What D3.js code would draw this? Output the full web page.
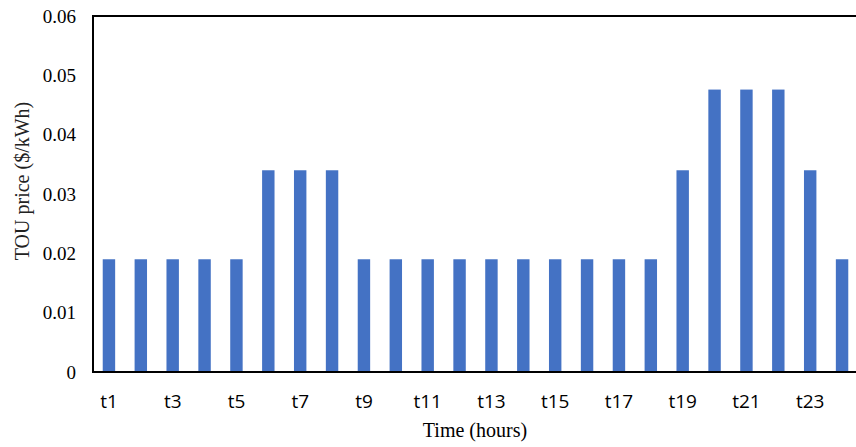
<!DOCTYPE html>
<html>
<head>
<meta charset="utf-8">
<script src="https://cdn.jsdelivr.net/npm/d3@7/dist/d3.min.js"></script>
<style>
  html, body { margin: 0; padding: 0; background: #fff; }
  svg { display: block; }
</style>
</head>
<body>
<svg id="chart" width="856" height="447"></svg>
<script>
// Hourly time-of-use tariff
const hours = ["t1","t2","t3","t4","t5","t6","t7","t8","t9","t10","t11","t12",
               "t13","t14","t15","t16","t17","t18","t19","t20","t21","t22","t23","t24"];
const prices = [0.019, 0.019, 0.019, 0.019, 0.019, 0.034, 0.034, 0.034,
                0.019, 0.019, 0.019, 0.019, 0.019, 0.019, 0.019, 0.019,
                0.019, 0.019, 0.034, 0.0476, 0.0476, 0.0476, 0.034, 0.019];
const yTicks = [0, 0.01, 0.02, 0.03, 0.04, 0.05, 0.06];
const xTickLabels = ["t1","t3","t5","t7","t9","t11","t13","t15","t17","t19","t21","t23"];

const svg = d3.select("#chart");
const plotLeft = 93, plotRight = 858, plotTop = 16, plotBottom = 372;

const x = d3.scaleBand().domain(hours).range([plotLeft, plotRight]).paddingInner(0.61).paddingOuter(0.305);
const y = d3.scaleLinear().domain([0, 0.06]).range([plotBottom, plotTop]);

// bars
svg.append("g").selectAll("rect").data(prices).join("rect")
  .attr("x", (d, i) => x(hours[i]))
  .attr("y", d => y(d))
  .attr("width", x.bandwidth())
  .attr("height", d => y(0) - y(d))
  .attr("fill", "#4472C4");

// y axis
const yAxis = d3.axisLeft(y).tickValues(yTicks)
  .tickFormat(d => d === 0 ? "0" : d3.format(".2f")(d))
  .tickSize(0).tickPadding(17);
const gy = svg.append("g").attr("transform", `translate(${plotLeft},0)`).call(yAxis);
gy.select(".domain").remove();
gy.selectAll("text")
  .attr("font-family", "'Liberation Serif', 'Times New Roman', serif")
  .attr("font-size", 19).attr("fill", "#000");

// x axis
const xAxis = d3.axisBottom(x).tickValues(xTickLabels).tickSize(0).tickPadding(23);
const gx = svg.append("g").attr("transform", `translate(0,${plotBottom})`).call(xAxis);
gx.select(".domain").remove();
gx.selectAll("text")
  .attr("font-family", "'Liberation Sans Narrow', 'Open Sans', sans-serif")
  .attr("font-size", 19).attr("fill", "#000");

// frame lines: left, bottom, top
const frame = svg.append("g").attr("stroke", "#000").attr("stroke-width", 2).attr("fill", "none");
frame.append("line").attr("x1", plotLeft).attr("x2", plotLeft).attr("y1", plotTop - 1).attr("y2", plotBottom + 1);
frame.append("line").attr("x1", plotLeft - 1).attr("x2", 856).attr("y1", plotBottom).attr("y2", plotBottom);
frame.append("line").attr("x1", plotLeft - 1).attr("x2", 856).attr("y1", plotTop).attr("y2", plotTop);

// axis titles
svg.append("text")
  .attr("x", 475).attr("y", 437)
  .attr("text-anchor", "middle")
  .attr("font-family", "'Liberation Serif', 'Times New Roman', serif")
  .attr("font-size", 20)
  .text("Time (hours)");

svg.append("text")
  .attr("transform", "translate(29,181) rotate(-90)")
  .attr("text-anchor", "middle")
  .attr("font-family", "'Liberation Serif', 'Times New Roman', serif")
  .attr("font-size", 20)
  .attr("fill", "#222")
  .text("TOU price ($/kWh)");
</script>
</body>
</html>
